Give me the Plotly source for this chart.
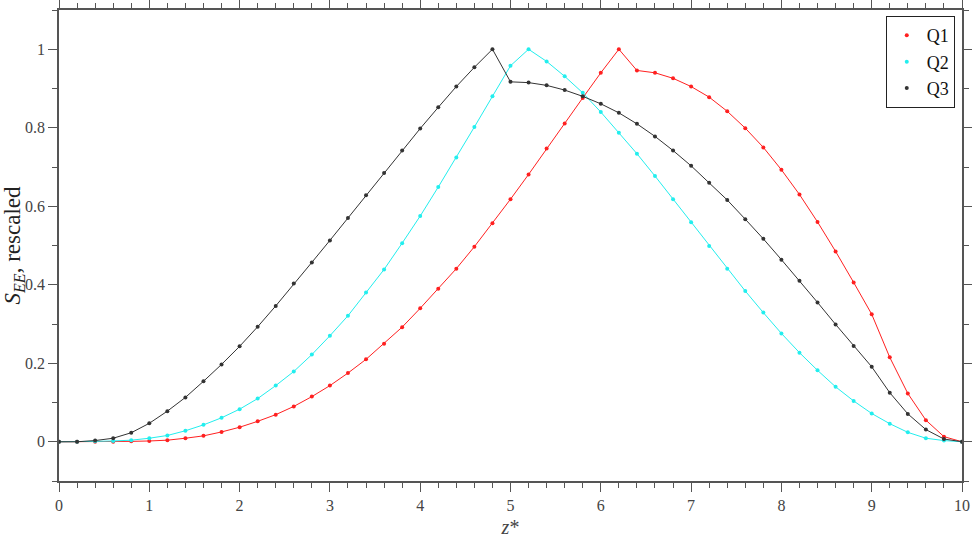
import plotly.graph_objects as go

FONT = "Liberation Serif, DejaVu Serif, serif"
AXIS_GREY = "#555555"

z_star = [round(0.2 * i, 1) for i in range(51)]

q1 = [0, 0, 0, 0, 0.001, 0.002, 0.004, 0.009, 0.015, 0.025,
      0.037, 0.052, 0.069, 0.090, 0.115, 0.143, 0.175, 0.210, 0.250, 0.292,
      0.340, 0.390, 0.441, 0.497, 0.557, 0.618, 0.681, 0.747, 0.811, 0.876,
      0.940, 1.0, 0.946, 0.940, 0.926, 0.905, 0.878, 0.842, 0.799, 0.750,
      0.693, 0.630, 0.560, 0.485, 0.406, 0.325, 0.215, 0.123, 0.055, 0.013,
      0]

q2 = [0, 0, 0.001, 0.002, 0.004, 0.009, 0.016, 0.028, 0.043, 0.061,
      0.083, 0.110, 0.143, 0.179, 0.222, 0.270, 0.321, 0.380, 0.439, 0.506,
      0.575, 0.649, 0.724, 0.802, 0.880, 0.958, 1.0, 0.969, 0.931, 0.889,
      0.840, 0.787, 0.734, 0.677, 0.618, 0.559, 0.499, 0.441, 0.384, 0.329,
      0.276, 0.227, 0.182, 0.140, 0.104, 0.072, 0.046, 0.024, 0.009, 0.003,
      0]

q3 = [0, 0, 0.003, 0.009, 0.023, 0.047, 0.078, 0.113, 0.154, 0.197,
      0.243, 0.293, 0.346, 0.403, 0.457, 0.513, 0.570, 0.628, 0.685, 0.742,
      0.798, 0.852, 0.905, 0.954, 1.0, 0.917, 0.915, 0.908, 0.896, 0.880,
      0.861, 0.838, 0.810, 0.778, 0.742, 0.703, 0.660, 0.616, 0.567, 0.517,
      0.464, 0.410, 0.355, 0.299, 0.244, 0.191, 0.125, 0.071, 0.031, 0.007,
      0]

series = [
    ("Q1", q1, "#ff2020"),
    ("Q2", q2, "#22eeee"),
    ("Q3", q3, "#333333"),
]


def axis_style(**kw):
    d = dict(
        showline=True, linecolor=AXIS_GREY, linewidth=1.5, mirror="allticks",
        ticks="outside", ticklen=9, tickwidth=1.2, tickcolor=AXIS_GREY,
        showgrid=False, zeroline=False, automargin=False,
        tickfont=dict(family=FONT, size=16, color="#444444"),
    )
    d.update(kw)
    return d


def plot():
    fig = go.Figure()
    for name, vals, color in series:
        fig.add_trace(go.Scatter(
            x=z_star, y=vals, name=name, mode="lines+markers",
            line=dict(color=color, width=1),
            marker=dict(color=color, size=4, symbol="circle"),
            showlegend=False,
        ))
    # marker-only legend entries, like the original figure
    for name, vals, color in series:
        fig.add_trace(go.Scatter(
            x=[None], y=[None], name=name, mode="markers",
            marker=dict(color=color, size=4, symbol="circle"),
        ))

    fig.update_layout(
        width=972, height=538,
        margin=dict(l=59, r=10, t=10, b=57),
        plot_bgcolor="white", paper_bgcolor="white",
        font=dict(family=FONT, color="#333333"),
        showlegend=True,
        legend=dict(
            x=0.992, y=0.987, xanchor="right", yanchor="top",
            bgcolor="white", bordercolor="#222222", borderwidth=1,
            font=dict(family=FONT, size=18, color="#111111"),
            itemwidth=30,
        ),
        xaxis=axis_style(
            range=[0, 10], dtick=1, tick0=0,
            minor=dict(dtick=0.2, ticklen=5, tickcolor=AXIS_GREY, ticks="outside"),
            title=dict(text="<i>z</i>*", font=dict(family=FONT, size=20, color="#444444"),
                       standoff=12),
        ),
        yaxis=axis_style(
            range=[-0.1, 1.1], dtick=0.2, tick0=0,
            minor=dict(dtick=0.1, ticklen=5, tickcolor=AXIS_GREY, ticks="outside"),
            title=dict(text="<i>S</i><sub><i>EE</i></sub>, rescaled",
                       font=dict(family=FONT, size=23, color="#222222"),
                       standoff=10),
        ),
    )
    # drop the default 8px body margin so the figure sits at the page corner
    fig.write_html("out.html", config={"displayModeBar": False},
                   post_script="document.body.style.margin='0';")


plot()
